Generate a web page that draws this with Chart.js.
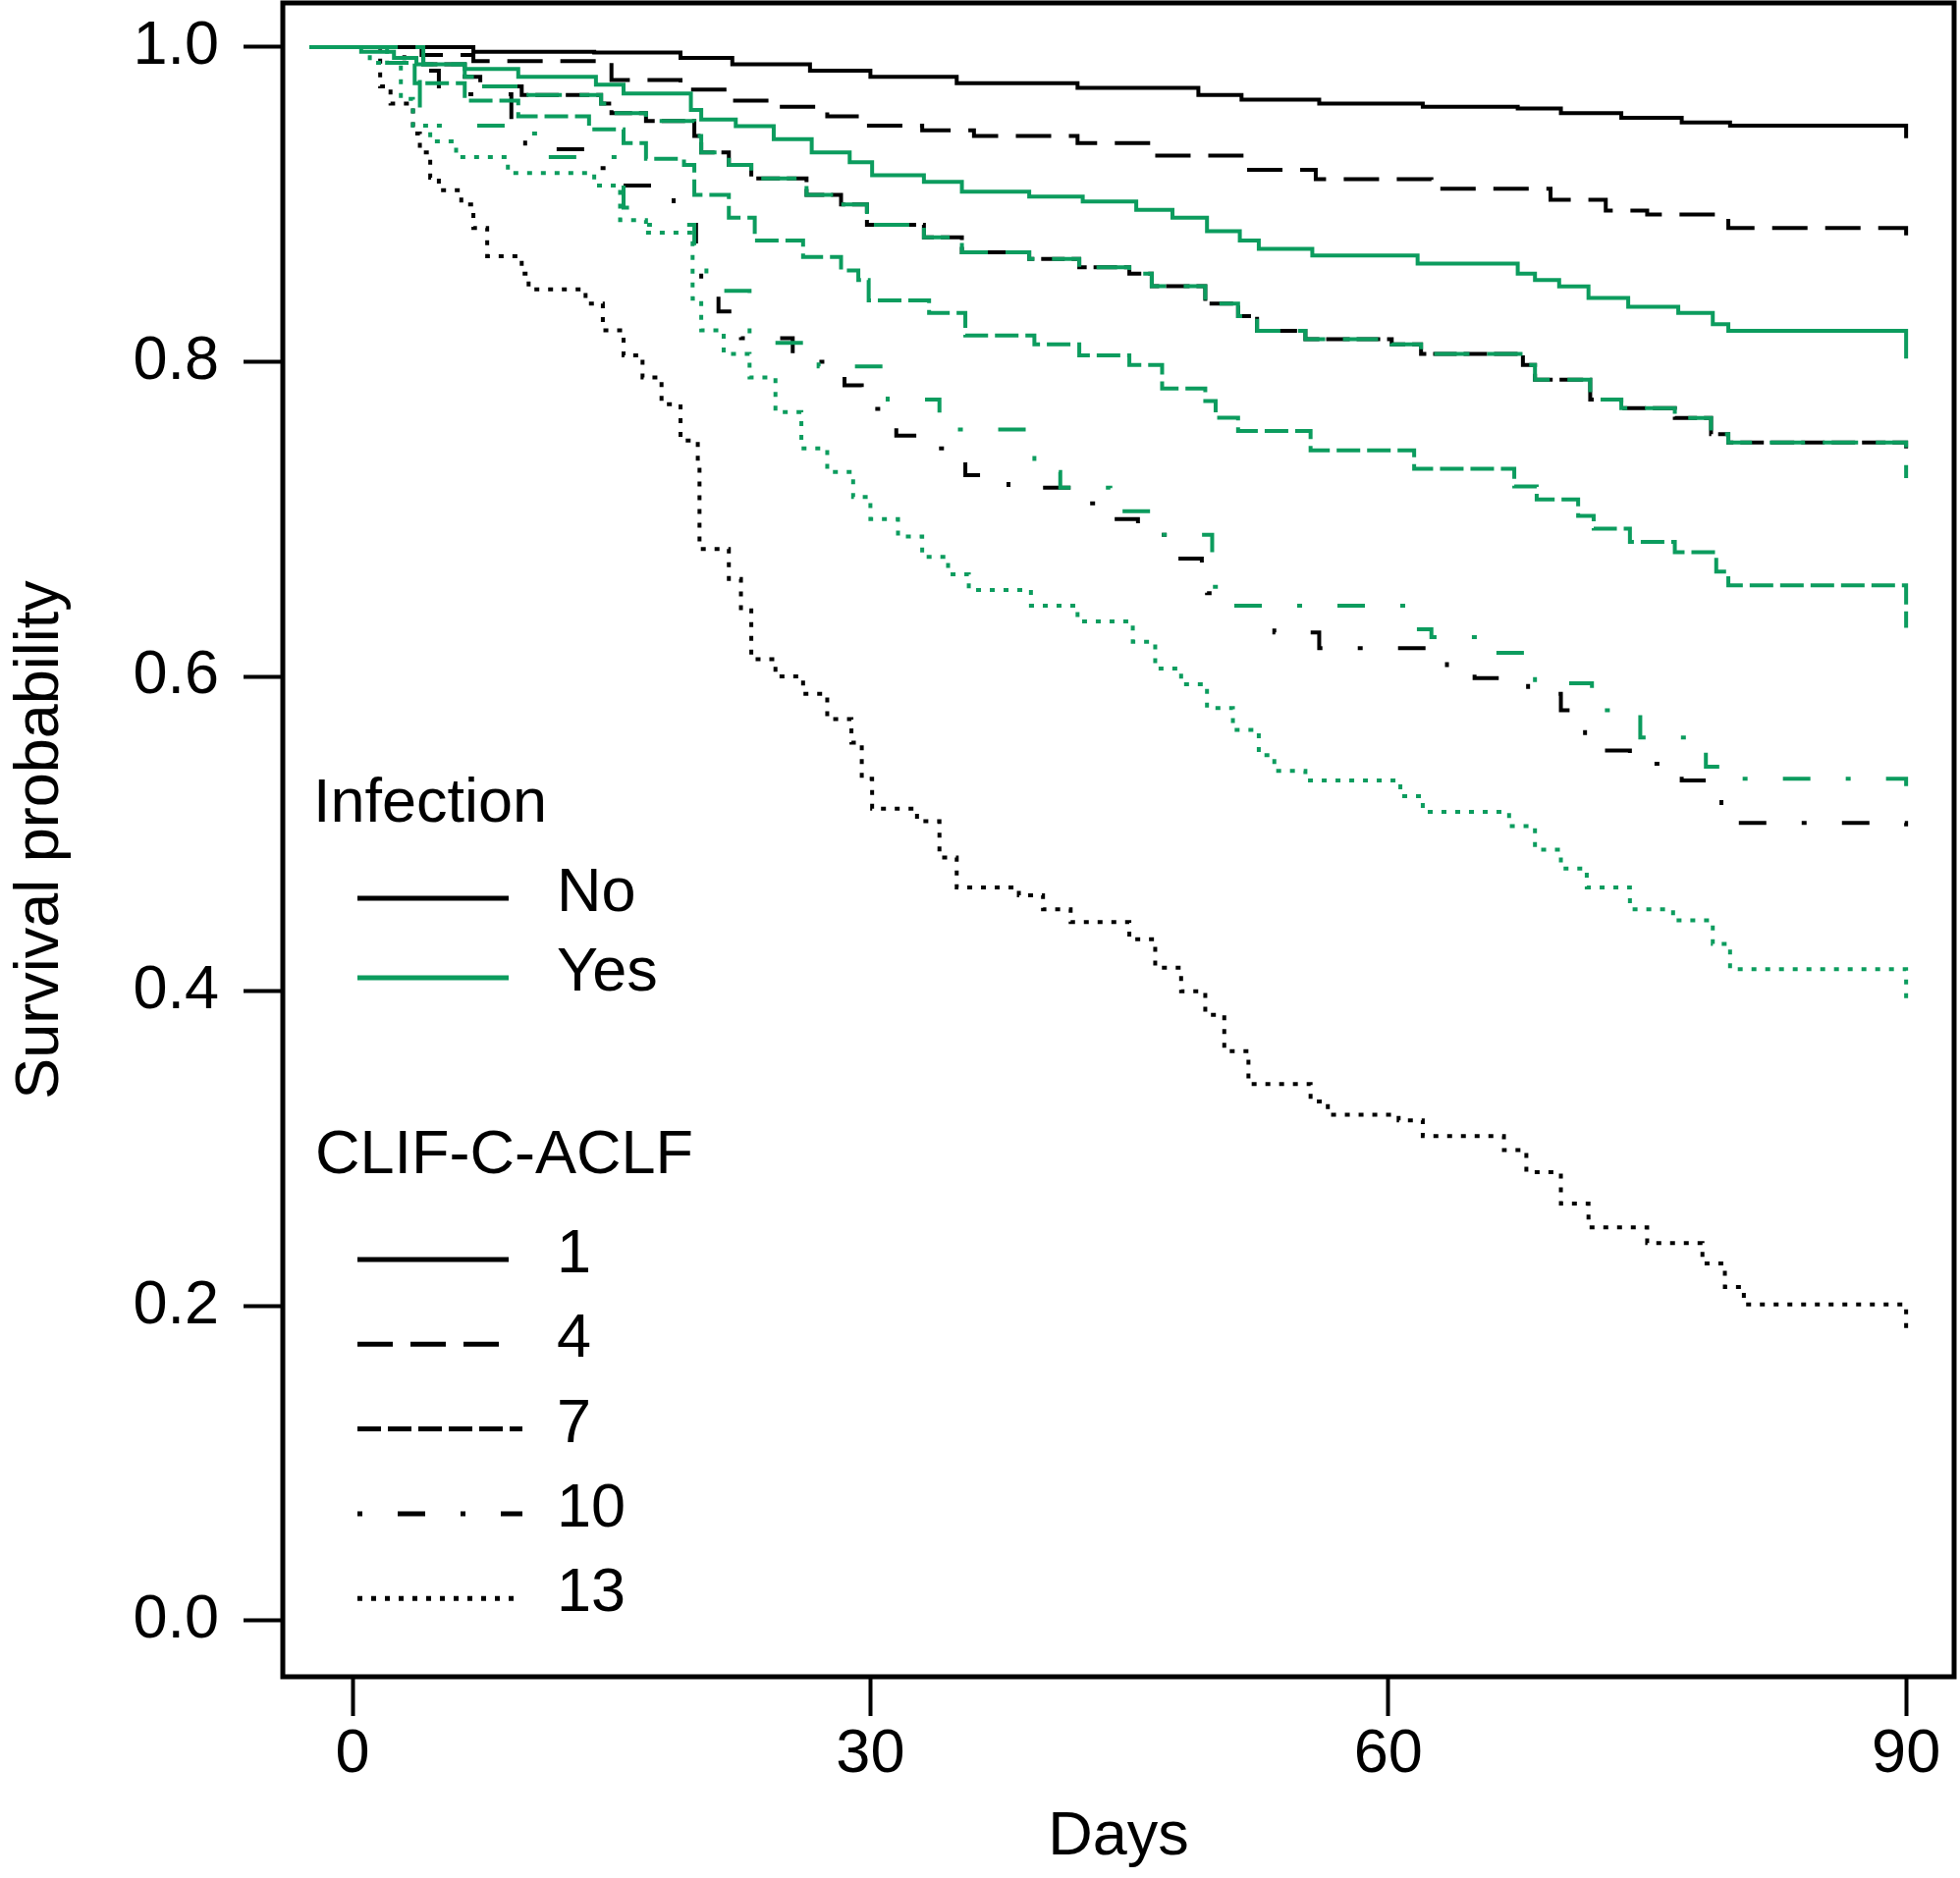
<!DOCTYPE html>
<html lang="en">
<head>
  <meta charset="UTF-8">
  <title>Survival probability by infection and CLIF-C-ACLF</title>
  <script src="https://cdn.jsdelivr.net/npm/chart.js@4.4.1/dist/chart.umd.min.js"></script>
  <style>
    html, body { margin: 0; padding: 0; background: #fff; }
    .wrap { width: 1996px; height: 1913px; position: relative; }
  </style>
</head>
<body>
  <div class="wrap"><canvas id="km"></canvas></div>
  <script>
    // axis ticks
    const dayTicks = [0, 30, 60, 90];
    const survTicks = [0, 0.2, 0.4, 0.6, 0.8, 1.0];

    // legend labels
    const infectionLabels = ['No', 'Yes'];
    const clifLabels = ['1', '4', '7', '10', '13'];

    // Kaplan-Meier steps: day of drop, survival after it
    const no1Days = [-2.5, 7, 14, 19, 22, 26.5, 30, 35, 42, 49, 51.5, 56, 62, 67.5, 70, 73.5, 77, 79.8, 90];
    const no1Surv = [1.0, 0.997, 0.9965, 0.993, 0.989, 0.985, 0.981, 0.977, 0.974, 0.9695, 0.9665, 0.964, 0.962, 0.961, 0.958, 0.955, 0.952, 0.950, 0.942];

    const no4Days = [-2.5, 4, 7, 15, 19, 22, 24.5, 27.5, 29.5, 33, 36, 42, 46.5, 51.5, 55.8, 62.5, 69.4, 72.6, 75, 79.7, 90];
    const no4Surv = [1.0, 0.995, 0.991, 0.979, 0.973, 0.966, 0.962, 0.956, 0.950, 0.947, 0.9435, 0.939, 0.931, 0.922, 0.916, 0.910, 0.903, 0.896, 0.8935, 0.885, 0.878];

    const no7Days = [-2.5, 4.1, 6.5, 7.4, 9.8, 14.4, 15, 17, 19.8, 20.2, 21.8, 23.1, 26.3, 28.3, 29.8, 33.1, 35.3, 39.2, 42.1, 45, 46.3, 49.4, 51.3, 52.4, 55.2, 60.2, 61.9, 67.8, 68.5, 71.7, 73.5, 76.6, 78.7, 79.7, 90];
    const no7Surv = [1.0, 0.989, 0.981, 0.975, 0.9695, 0.964, 0.958, 0.953, 0.9435, 0.933, 0.925, 0.9165, 0.906, 0.900, 0.887, 0.879, 0.8696, 0.8654, 0.860, 0.856, 0.848, 0.837, 0.829, 0.8196, 0.8144, 0.811, 0.805, 0.798, 0.7886, 0.776, 0.7705, 0.7643, 0.754, 0.7487, 0.745];

    const no10Days = [-2.5, 3, 5, 9.2, 10, 14.2, 15, 18.6, 19.9, 20.2, 21.2, 22.5, 25.5, 28.5, 29.5, 31.5, 33, 35.5, 38, 42, 43.9, 45.5, 47.5, 49.2, 49.5, 51, 53.4, 56, 63.4, 65, 68.1, 70, 71.4, 74, 77, 79.3, 90];
    const no10Surv = [1.0, 0.985, 0.97, 0.942, 0.935, 0.923, 0.912, 0.887, 0.868, 0.844, 0.832, 0.815, 0.80, 0.785, 0.77, 0.753, 0.745, 0.728, 0.72, 0.71, 0.70, 0.69, 0.675, 0.667, 0.653, 0.645, 0.628, 0.618, 0.603, 0.599, 0.589, 0.5785, 0.553, 0.5445, 0.534, 0.507, 0.488];

    const no13Days = [-2.5, 1.6, 2.2, 3.5, 3.9, 4.5, 5, 6.3, 7, 7.8, 9.8, 10.2, 13.5, 14.5, 15.7, 16.8, 17.9, 19, 20, 20.1, 21.8, 22.5, 23.1, 24.5, 26.1, 27.5, 28.9, 29.5, 30.1, 32.7, 34, 35, 38.6, 40, 41.6, 45, 46.5, 48, 49.4, 50.5, 51.9, 55.5, 56.5, 60.6, 62, 66.7, 68, 70, 71.6, 75, 78.2, 79.5, 80.6, 90];
    const no13Surv = [1.0, 0.975, 0.964, 0.945, 0.933, 0.917, 0.909, 0.9, 0.885, 0.867, 0.856, 0.846, 0.837, 0.82, 0.804, 0.79, 0.773, 0.75, 0.733, 0.681, 0.662, 0.642, 0.611, 0.6, 0.589, 0.573, 0.558, 0.535, 0.516, 0.508, 0.485, 0.466, 0.461, 0.452, 0.444, 0.433, 0.415, 0.4, 0.385, 0.362, 0.341, 0.33, 0.3216, 0.318, 0.308, 0.299, 0.285, 0.265, 0.25, 0.24, 0.227, 0.212, 0.201, 0.181];

    const yes1Days = [-2.5, 0.5, 2.4, 3.7, 6.5, 9.6, 14.1, 15.7, 19.6, 20.2, 22.2, 24.4, 26.6, 28.8, 30.1, 33.1, 35.3, 39.2, 42.3, 45.4, 47.5, 49.5, 51.4, 52.5, 55.6, 61.7, 67.5, 68.5, 69.9, 71.6, 73.9, 76.8, 78.8, 79.7, 90];
    const yes1Surv = [1.0, 0.997, 0.993, 0.989, 0.986, 0.981, 0.976, 0.9705, 0.960, 0.954, 0.9497, 0.9414, 0.933, 0.9268, 0.9185, 0.9143, 0.908, 0.905, 0.9018, 0.8966, 0.8915, 0.883, 0.877, 0.8717, 0.8675, 0.8623, 0.856, 0.852, 0.8478, 0.8405, 0.835, 0.831, 0.8238, 0.8196, 0.802];

    const yes4Days = [-2.5, 4.1, 6.5, 7.4, 9.8, 14.4, 15, 17, 19.8, 20.2, 21.8, 23.1, 26.3, 28.3, 29.8, 33.1, 35.3, 39.2, 42.1, 45, 46.3, 49.4, 51.3, 52.4, 55.2, 60.2, 61.9, 67.8, 68.5, 71.7, 73.5, 76.6, 78.7, 79.7, 90];
    const yes4Surv = [1.0, 0.989, 0.981, 0.975, 0.9695, 0.964, 0.958, 0.953, 0.9435, 0.933, 0.925, 0.9165, 0.906, 0.900, 0.887, 0.879, 0.8696, 0.8654, 0.860, 0.856, 0.848, 0.837, 0.829, 0.8196, 0.8144, 0.811, 0.805, 0.798, 0.7886, 0.776, 0.7705, 0.7643, 0.754, 0.7487, 0.726];

    const yes7Days = [-2.5, 2, 3.6, 6.5, 9.6, 13.7, 15.7, 17, 19.2, 19.8, 21.8, 23.3, 26.1, 28.3, 29.3, 29.9, 33.4, 35.5, 39.5, 42.1, 45, 46.9, 49.4, 50, 51.3, 55.5, 61.5, 67.3, 68.6, 71, 71.9, 74, 76.6, 79, 79.7, 90];
    const yes7Surv = [1.0, 0.99, 0.977, 0.966, 0.956, 0.9477, 0.939, 0.929, 0.925, 0.906, 0.8915, 0.877, 0.8666, 0.858, 0.852, 0.839, 0.831, 0.8167, 0.811, 0.804, 0.798, 0.783, 0.775, 0.7645, 0.756, 0.7437, 0.732, 0.7208, 0.7125, 0.702, 0.694, 0.6855, 0.679, 0.6667, 0.658, 0.631];

    const yes10Days = [-2.5, 1.5, 3.9, 4.7, 9, 11.3, 15.7, 17, 19.8, 20.5, 23, 24, 27, 31, 34, 39.5, 41, 43.9, 47, 49.8, 50.5, 61, 62.5, 66, 68.5, 71.8, 74.6, 78.4, 79.6, 90];
    const yes10Surv = [1.0, 0.99, 0.956, 0.95, 0.945, 0.93, 0.898, 0.887, 0.865, 0.845, 0.818, 0.812, 0.797, 0.776, 0.757, 0.73, 0.72, 0.705, 0.69, 0.657, 0.645, 0.63, 0.625, 0.615, 0.5957, 0.5785, 0.5613, 0.5426, 0.535, 0.51];

    const yes13Days = [-2.5, 1, 2.8, 3.5, 4.5, 6, 9, 14, 15.5, 17, 19.7, 20.2, 21.5, 23, 24.5, 26, 27.5, 29, 30, 31.6, 33, 34.5, 35.7, 39.3, 42, 45.2, 46.5, 48, 49.5, 51, 52.5, 53.4, 55.2, 60.7, 62, 67, 68.5, 70, 71.5, 74, 76.5, 78.8, 79.8, 90];
    const yes13Surv = [1.0, 0.99, 0.967, 0.95, 0.94, 0.93, 0.92, 0.912, 0.89, 0.882, 0.84, 0.82, 0.805, 0.79, 0.768, 0.745, 0.73, 0.714, 0.70, 0.689, 0.676, 0.665, 0.655, 0.645, 0.635, 0.622, 0.605, 0.595, 0.58, 0.566, 0.55, 0.54, 0.534, 0.524, 0.514, 0.505, 0.49, 0.478, 0.466, 0.452, 0.445, 0.43, 0.414, 0.39];

    const FONT = "'Liberation Sans', Arial, sans-serif";
    const SIZE = 63;
    const BLACK = '#000000';
    const GREEN = '#0c9c5e';

    // line type per CLIF-C-ACLF level
    const dashes = {
      '1': [],
      '4': [36, 18],
      '7': [24, 7],
      '10': [5, 36, 28, 36],
      '13': [5, 9]
    };

    function steps(days, surv) {
      return days.map((d, i) => ({ x: d, y: surv[i] }));
    }

    function curve(label, days, surv, color, level) {
      return {
        label: label,
        data: steps(days, surv),
        borderColor: color,
        borderWidth: 4,
        borderDash: dashes[level],
        borderCapStyle: 'butt',
        stepped: 'before',
        pointRadius: 0,
        fill: false
      };
    }

    // the frame around the plotting region
    const boxPlugin = {
      id: 'box',
      afterDraw(chart) {
        const a = chart.chartArea;
        const ctx = chart.ctx;
        ctx.save();
        ctx.lineWidth = 5;
        ctx.strokeStyle = BLACK;
        ctx.strokeRect(a.left, a.top, a.right - a.left, a.bottom - a.top);
        ctx.restore();
      }
    };

    // two-block legend inside the plot, as in the figure
    const legendPlugin = {
      id: 'kmLegend',
      afterDatasetsDraw(chart) {
        const a = chart.chartArea;
        const ctx = chart.ctx;
        const lx = a.left + 76, lw = 154, tx = a.left + 279;
        ctx.save();
        ctx.font = SIZE + 'px ' + FONT;
        ctx.fillStyle = BLACK;
        ctx.textBaseline = 'alphabetic';
        ctx.fillText('Infection', a.left + 31, a.top + 834);
        ctx.lineWidth = 5;
        ctx.lineCap = 'butt';
        const infY = [912, 993];
        infectionLabels.forEach((lab, i) => {
          const y = a.top + infY[i];
          ctx.strokeStyle = i === 0 ? BLACK : GREEN;
          ctx.setLineDash([]);
          ctx.beginPath(); ctx.moveTo(lx, y); ctx.lineTo(lx + lw, y); ctx.stroke();
          ctx.fillText(lab, tx, y + 13);
        });
        ctx.fillText('CLIF-C-ACLF', a.left + 33, a.top + 1192);
        clifLabels.forEach((lab, i) => {
          const y = a.top + 1280 + i * 86.3;
          ctx.strokeStyle = BLACK;
          ctx.setLineDash(dashes[lab]);
          ctx.beginPath(); ctx.moveTo(lx, y); ctx.lineTo(lx + lw + (i > 1 ? 14 : 0), y); ctx.stroke();
          ctx.fillText(lab, tx, y + 13);
        });
        ctx.restore();
      }
    };

    // keep Chart.js from reserving room for half labels at the ends
    function noEndPadding(scale) {
      scale.paddingTop = 0;
      scale.paddingBottom = 0;
      scale.paddingLeft = 0;
      scale.paddingRight = 0;
    }

    const ctx = document.getElementById('km').getContext('2d');
    const kmChart = new Chart(ctx, {
      type: 'line',
      data: {
        datasets: [
          curve('Yes, 1', yes1Days, yes1Surv, GREEN, '1'),
          curve('Yes, 4', yes4Days, yes4Surv, GREEN, '4'),
          curve('Yes, 7', yes7Days, yes7Surv, GREEN, '7'),
          curve('Yes, 10', yes10Days, yes10Surv, GREEN, '10'),
          curve('Yes, 13', yes13Days, yes13Surv, GREEN, '13'),
          curve('No, 1', no1Days, no1Surv, BLACK, '1'),
          curve('No, 4', no4Days, no4Surv, BLACK, '4'),
          curve('No, 7', no7Days, no7Surv, BLACK, '7'),
          curve('No, 10', no10Days, no10Surv, BLACK, '10'),
          curve('No, 13', no13Days, no13Surv, BLACK, '13')
        ]
      },
      options: {
        responsive: true,
        maintainAspectRatio: false,
        animation: false,
        layout: { padding: { top: 3, right: 6, left: 0, bottom: 0 } },
        plugins: {
          legend: { display: false },
          tooltip: { enabled: false }
        },
        scales: {
          x: {
            type: 'linear',
            min: -4.04,
            max: 92.78,
            afterBuildTicks: axis => { axis.ticks = dayTicks.map(v => ({ value: v })); },
            afterFit: scale => { scale.height = 205; noEndPadding(scale); },
            grid: { drawOnChartArea: false, drawTicks: true, tickLength: 40, tickWidth: 4, tickColor: BLACK },
            border: { display: false },
            ticks: {
              color: BLACK,
              font: { family: FONT, size: SIZE },
              padding: 2,
              maxRotation: 0,
              autoSkip: false,
              callback: v => String(v)
            },
            title: {
              display: true,
              text: 'Days',
              color: BLACK,
              font: { family: FONT, size: SIZE },
              padding: { top: 0, bottom: 4 }
            }
          },
          y: {
            type: 'linear',
            min: -0.0356,
            max: 1.028,
            afterBuildTicks: axis => { axis.ticks = survTicks.map(v => ({ value: v })); },
            afterFit: scale => { scale.width = 288; noEndPadding(scale); },
            grid: { drawOnChartArea: false, drawTicks: true, tickLength: 40, tickWidth: 4, tickColor: BLACK },
            border: { display: false },
            ticks: {
              color: BLACK,
              font: { family: FONT, size: SIZE },
              padding: 25,
              autoSkip: false,
              callback: v => v.toFixed(1)
            },
            title: {
              display: true,
              text: 'Survival probability',
              color: BLACK,
              font: { family: FONT, size: SIZE },
              padding: { top: 4, bottom: 0 }
            }
          }
        }
      },
      plugins: [boxPlugin, legendPlugin]
    });
  </script>
</body>
</html>
